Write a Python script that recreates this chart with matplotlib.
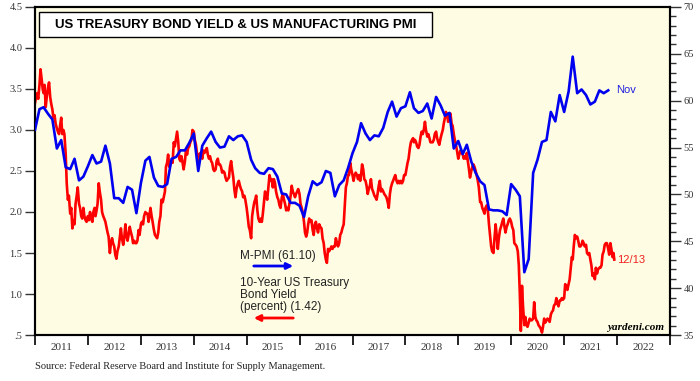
import matplotlib
matplotlib.use('Agg')
import matplotlib.pyplot as plt
import matplotlib.dates as mdates
import matplotlib.ticker as mticker
from matplotlib.patches import Rectangle
import pandas as pd

# ISM manufacturing PMI, monthly Jan 2011 - Nov 2021 (right axis)
pmi = [56.9, 59.1, 59.3, 58.6, 58.0, 54.9, 55.8, 52.9, 52.7, 53.8, 51.5, 51.9,
       53.0, 54.2, 53.3, 53.5, 55.2, 53.3, 49.6, 49.6, 49.1, 50.8, 50.5, 48.0,
       51.2, 53.6, 54.0, 51.8, 50.9, 50.8, 51.1, 53.8, 54.0, 54.7, 54.7, 55.5,
       56.5, 52.5, 55.2, 56.0, 56.7, 55.6, 55.0, 55.1, 56.2, 55.8, 56.2, 56.3,
       55.6, 53.7, 52.8, 52.3, 52.2, 52.8, 52.7, 51.9, 50.1, 50.0, 49.1, 49.1,
       48.8, 47.6, 49.8, 51.4, 51.0, 51.3, 52.5, 52.3, 49.8, 51.0, 51.5, 52.8,
       54.4, 55.6, 57.6, 56.5, 55.8, 56.3, 56.2, 57.1, 58.8, 59.9, 58.3, 59.2,
       59.4, 60.9, 59.2, 58.7, 58.9, 59.7, 58.1, 60.4, 59.5, 58.4, 58.7, 54.9,
       55.7, 54.3, 55.3, 53.5, 52.3, 51.4, 51.0, 48.4, 48.3, 48.3, 48.2, 47.8,
       51.1, 50.5, 49.8, 41.7, 43.1, 52.3, 53.7, 55.6, 55.8, 58.8, 57.8, 60.6,
       58.8, 61.0, 64.7, 60.8, 61.2, 60.6, 59.6, 59.9, 61.1, 60.8, 61.1]

# 10-year Treasury yield, four readings a month (left axis)
yld_2011 = [3.33, 3.40, 3.45, 3.38, 3.55, 3.74, 3.62, 3.50, 3.45, 3.55, 3.28, 3.40,
            3.52, 3.58, 3.40, 3.32, 3.25, 3.15, 3.18, 3.08, 3.02, 2.98, 2.95, 3.05,
            3.15, 2.95, 3.00, 2.95, 2.70, 2.35, 2.15, 2.20, 1.98, 2.05, 1.80, 1.90,
            1.85, 2.10, 2.20, 2.30, 2.10, 2.05, 1.95, 1.92, 2.05, 1.95, 1.90, 1.88]
yld_2012 = [1.95, 1.90, 2.00, 1.92, 1.88, 2.00, 2.05, 1.95, 2.02, 2.10, 2.35, 2.25,
            2.15, 2.00, 1.95, 1.92, 1.88, 1.82, 1.75, 1.70, 1.50, 1.62, 1.68, 1.62,
            1.58, 1.48, 1.43, 1.52, 1.58, 1.68, 1.80, 1.68, 1.60, 1.68, 1.85, 1.72,
            1.65, 1.72, 1.82, 1.76, 1.70, 1.62, 1.65, 1.62, 1.62, 1.65, 1.78, 1.72]
yld_2013 = [1.85, 1.88, 1.85, 1.95, 2.00, 1.98, 1.98, 1.88, 1.95, 2.05, 1.95, 1.88,
            1.78, 1.72, 1.70, 1.68, 1.75, 1.88, 1.95, 2.15, 2.12, 2.18, 2.25, 2.55,
            2.60, 2.70, 2.55, 2.58, 2.62, 2.60, 2.85, 2.80, 2.90, 2.98, 2.85, 2.65,
            2.62, 2.68, 2.60, 2.52, 2.62, 2.75, 2.70, 2.78, 2.80, 2.85, 2.88, 3.00]
yld_2014 = [2.98, 2.88, 2.82, 2.72, 2.62, 2.70, 2.72, 2.68, 2.65, 2.75, 2.72, 2.75,
            2.78, 2.70, 2.65, 2.68, 2.62, 2.60, 2.52, 2.50, 2.52, 2.62, 2.65, 2.58,
            2.58, 2.55, 2.48, 2.50, 2.48, 2.42, 2.38, 2.40, 2.42, 2.55, 2.62, 2.52,
            2.42, 2.28, 2.18, 2.28, 2.35, 2.38, 2.32, 2.28, 2.25, 2.18, 2.20, 2.15]
yld_2015 = [2.05, 1.95, 1.82, 1.78, 1.68, 1.95, 2.05, 2.12, 2.15, 2.20, 2.02, 1.92,
            1.88, 1.92, 1.88, 1.98, 2.12, 2.25, 2.20, 2.15, 2.32, 2.45, 2.38, 2.40,
            2.30, 2.40, 2.35, 2.25, 2.18, 2.15, 2.08, 2.05, 2.18, 2.22, 2.15, 2.10,
            2.02, 2.05, 2.02, 2.10, 2.20, 2.32, 2.25, 2.22, 2.18, 2.22, 2.25, 2.28]
yld_2016 = [2.22, 2.10, 2.05, 2.00, 1.88, 1.75, 1.70, 1.75, 1.85, 1.92, 1.88, 1.90,
            1.78, 1.72, 1.85, 1.88, 1.80, 1.75, 1.85, 1.82, 1.80, 1.68, 1.62, 1.50,
            1.42, 1.38, 1.55, 1.52, 1.55, 1.58, 1.55, 1.58, 1.58, 1.68, 1.62, 1.58,
            1.62, 1.72, 1.75, 1.80, 1.85, 2.05, 2.30, 2.35, 2.45, 2.45, 2.60, 2.52]
yld_2017 = [2.45, 2.38, 2.45, 2.48, 2.45, 2.40, 2.45, 2.38, 2.45, 2.58, 2.52, 2.40,
            2.38, 2.32, 2.22, 2.28, 2.32, 2.40, 2.28, 2.25, 2.20, 2.18, 2.15, 2.22,
            2.32, 2.38, 2.25, 2.28, 2.25, 2.22, 2.20, 2.18, 2.12, 2.05, 2.22, 2.30,
            2.35, 2.38, 2.42, 2.45, 2.38, 2.35, 2.38, 2.35, 2.38, 2.35, 2.38, 2.45]
yld_2018 = [2.45, 2.52, 2.60, 2.65, 2.78, 2.85, 2.88, 2.90, 2.85, 2.88, 2.85, 2.80,
            2.78, 2.82, 2.92, 2.98, 2.95, 3.00, 3.10, 3.00, 2.92, 2.95, 2.90, 2.85,
            2.85, 2.85, 2.88, 2.95, 2.98, 2.90, 2.85, 2.82, 2.90, 2.95, 3.00, 3.08,
            3.15, 3.22, 3.18, 3.10, 3.15, 3.20, 3.08, 3.05, 2.95, 2.88, 2.82, 2.75]
yld_2019 = [2.65, 2.70, 2.75, 2.72, 2.70, 2.65, 2.68, 2.65, 2.72, 2.62, 2.52, 2.42,
            2.50, 2.55, 2.58, 2.55, 2.50, 2.45, 2.38, 2.30, 2.12, 2.12, 2.05, 2.02,
            1.98, 2.05, 2.08, 2.05, 1.85, 1.72, 1.58, 1.52, 1.50, 1.68, 1.85, 1.72,
            1.55, 1.68, 1.78, 1.82, 1.88, 1.92, 1.82, 1.75, 1.82, 1.85, 1.90, 1.92]
yld_2020 = [1.88, 1.82, 1.78, 1.62, 1.60, 1.58, 1.52, 1.35, 1.00, 0.55, 1.10, 0.85,
            0.62, 0.72, 0.62, 0.60, 0.65, 0.70, 0.68, 0.68, 0.70, 0.90, 0.72, 0.68,
            0.66, 0.62, 0.60, 0.58, 0.53, 0.60, 0.70, 0.65, 0.68, 0.70, 0.68, 0.66,
            0.75, 0.78, 0.80, 0.86, 0.88, 0.95, 0.88, 0.85, 0.92, 0.92, 0.95, 0.93]
yld_2021 = [0.95, 1.12, 1.10, 1.05, 1.12, 1.18, 1.32, 1.45, 1.42, 1.58, 1.72, 1.68,
            1.70, 1.65, 1.58, 1.58, 1.60, 1.65, 1.62, 1.58, 1.60, 1.50, 1.48, 1.50,
            1.42, 1.35, 1.22, 1.25, 1.18, 1.32, 1.25, 1.30, 1.32, 1.32, 1.35, 1.48,
            1.52, 1.60, 1.62, 1.62, 1.55, 1.48, 1.62, 1.55, 1.45, 1.50, 1.42]

yld = (yld_2011 + yld_2012 + yld_2013 + yld_2014 + yld_2015 + yld_2016 +
       yld_2017 + yld_2018 + yld_2019 + yld_2020 + yld_2021)

# Dates for each series
pmiDates = pd.date_range('2011-01-01', periods=len(pmi), freq='MS')
yldDates = []
for yr in range(2011, 2022):
    for mo in range(1, 13):
        days = [1, 8, 16, 23]
        if yr == 2021 and mo == 12:
            days = [1, 8, 13]  # last reading 12/13
        for d in days:
            yldDates.append(pd.Timestamp(yr, mo, d))

serif = 'Liberation Serif'
sans = 'Liberation Sans'
bg = '#FEFDE3'

fig = plt.figure(figsize=(7, 3.81), dpi=100)
ax = fig.add_axes([0.05, 0.1207, 0.907, 0.861])
ax.set_facecolor(bg)
ax2 = ax.twinx()

# Yield on left axis, PMI on right axis
ax.plot(yldDates, yld, color='#FF0000', lw=1.9, zorder=2)
ax2.plot(pmiDates, pmi, color='#0000F0', lw=1.9, zorder=3)

ax.set_xlim(pd.Timestamp('2011-01-01'), pd.Timestamp('2023-01-01'))
ax.set_ylim(0.5, 4.5)
ax2.set_ylim(35, 70)

# Left ticks
ax.yaxis.set_major_locator(mticker.MultipleLocator(0.5))
ax.yaxis.set_major_formatter(mticker.FuncFormatter(
    lambda v, p: ('%.1f' % v).lstrip('0')))
ax.tick_params(axis='y', direction='out', length=7, width=1, pad=2,
               labelsize=7.5, labelfontfamily=serif, colors='#333333')

# Right ticks
ax2.yaxis.set_major_locator(mticker.MultipleLocator(5))
ax2.yaxis.set_minor_locator(mticker.MultipleLocator(1))
ax2.tick_params(axis='y', which='major', direction='out', length=8, width=1,
                pad=2, labelsize=7.5, labelfontfamily=serif, colors='#333333')
ax2.tick_params(axis='y', which='minor', direction='out', length=4, width=1,
                colors='#333333')

# Year ticks at boundaries, labels mid-year
ax.xaxis.set_major_locator(mdates.YearLocator())
ax.xaxis.set_major_formatter(mticker.NullFormatter())
ax.xaxis.set_minor_locator(mdates.MonthLocator(bymonth=7, bymonthday=1))
ax.xaxis.set_minor_formatter(mticker.FuncFormatter(
    lambda v, p: mdates.num2date(v).strftime('%Y')))
ax.tick_params(axis='x', which='major', direction='out', length=7, width=1.2)
ax.tick_params(axis='x', which='minor', length=0, pad=6, labelsize=8,
               labelfontfamily=serif, labelcolor='#333333')

for a in (ax, ax2):
    for s in a.spines.values():
        s.set_linewidth(1.5)
        s.set_color('black')

# Title box
fig.add_artist(Rectangle((39 / 700, 1 - 37 / 381), 393 / 700, 25 / 381,
                         transform=fig.transFigure, facecolor='white',
                         edgecolor='black', lw=1))
fig.text(235.5 / 700, 1 - 24.5 / 381,
         'US TREASURY BOND YIELD & US MANUFACTURING PMI',
         ha='center', va='center', fontsize=9.5, fontweight='bold',
         family=sans)

# Legend text and arrows
fig.text(240 / 700, 1 - 256 / 381, 'M-PMI (61.10)', ha='left', va='center',
         fontsize=8.5, family=sans, color='#222222')
fig.text(240 / 700, 1 - 277 / 381, '10-Year US Treasury\nBond Yield\n(percent) (1.42)',
         ha='left', va='top', fontsize=8.5, family=sans, color='#222222',
         linespacing=1.0)
ax.annotate('', xy=(296 / 700, 1 - 266 / 381), xytext=(251 / 700, 1 - 266 / 381),
            xycoords='figure fraction',
            arrowprops=dict(arrowstyle='-|>', color='#0000F0', lw=2,
                            mutation_scale=9))
ax.annotate('', xy=(251 / 700, 1 - 318 / 381), xytext=(296 / 700, 1 - 318 / 381),
            xycoords='figure fraction',
            arrowprops=dict(arrowstyle='-|>', color='#FF0000', lw=2,
                            mutation_scale=9))

# End labels
fig.text(616 / 700, 1 - 90 / 381, 'Nov', ha='left', va='center', fontsize=8,
         family=sans, color='#2020E0')
fig.text(617 / 700, 1 - 260 / 381, '12/13', ha='left', va='center',
         fontsize=8, family=sans, color='#F02020')

fig.text(664 / 700, 1 - 328 / 381, 'yardeni.com', ha='right', va='center',
         fontsize=8, family=serif, fontweight='bold', style='italic')

fig.text(35 / 700, 1 - 366 / 381,
         'Source: Federal Reserve Board and Institute for Supply Management.',
         ha='left', va='center', fontsize=7.5, family=serif, color='#222222')

fig.savefig('out.png', dpi=100, facecolor='white')
